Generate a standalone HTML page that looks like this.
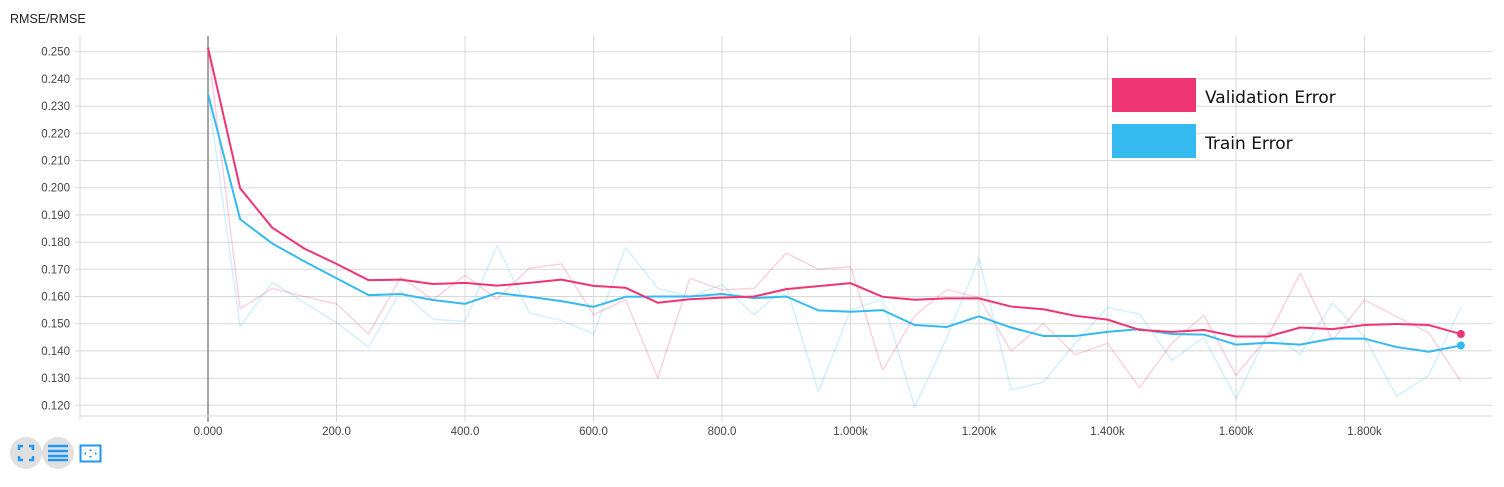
<!DOCTYPE html>
<html><head><meta charset="utf-8"><style>
body{margin:0;background:#fff;width:1504px;height:487px;overflow:hidden;font-family:"Liberation Sans",sans-serif}
svg{position:absolute;left:0;top:0}
.btn{position:absolute;top:437px;width:32px;height:32px;border-radius:16px;background:#e0e0e0}
</style></head><body>
<svg id="chart" width="1504" height="487">
<text x="10" y="23" font-size="12.5" fill="#222">RMSE/RMSE</text>
<g id="grid"></g><g id="axes"></g><g id="series"></g>
<g font-family="DejaVu Sans, sans-serif">
<rect x="1112" y="78" width="84" height="34" fill="#ef3474"/>
<text x="1205" y="103" font-size="17" fill="#111">Validation Error</text>
<rect x="1112" y="124" width="84" height="34" fill="#35baf0"/>
<text x="1205" y="149" font-size="17" fill="#111">Train Error</text>
</g>
</svg>
<div class="btn" style="left:10px">
<svg width="32" height="32" style="position:static"><path d="M9 13V9h4M19 9h4v4M23 19v4h-4M13 23H9v-4" stroke="#2196f3" stroke-width="2.5" fill="none"/></svg></div>
<div class="btn" style="left:42px">
<svg width="32" height="32" style="position:static"><path d="M6 9h20M6 14h20M6 19h20M6 23h20" stroke="#2196f3" stroke-width="2.5"/></svg></div>
<div style="position:absolute;left:79px;top:444px">
<svg width="24" height="20" style="position:static"><rect x="1.5" y="1.5" width="20" height="16" stroke="#2196f3" stroke-width="2" fill="none"/><path d="M11.5 5l-1.5 2h3zM11.5 14l-1.5-2h3zM5 9.5l2-1.5v3zM18 9.5l-2-1.5v3z" fill="#2196f3"/></svg></div>
<script>
const steps=[];for(let i=0;i<40;i++)steps.push(i*50);
const valSmooth=[0.2515,0.1998,0.1853,0.1776,0.172,0.166,0.1662,0.1646,0.165,0.164,0.165,0.1662,0.1639,0.1632,0.1577,0.159,0.1596,0.160,0.1627,0.1638,0.1649,0.1599,0.1588,0.1593,0.1593,0.1563,0.1553,0.1529,0.1515,0.1477,0.147,0.1477,0.1453,0.1453,0.1486,0.148,0.1495,0.1499,0.1495,0.1462];
const trainSmooth=[0.2345,0.1884,0.1795,0.1729,0.1667,0.1605,0.1609,0.1587,0.1573,0.1613,0.1599,0.1583,0.1562,0.1599,0.160,0.160,0.1609,0.1594,0.160,0.1549,0.1544,0.155,0.1495,0.1488,0.1527,0.1486,0.1455,0.1455,0.147,0.148,0.1462,0.146,0.1423,0.143,0.1423,0.1445,0.1445,0.1414,0.1397,0.142];
const valRaw=[0.2515,0.1555,0.163,0.160,0.1573,0.1462,0.1671,0.1588,0.1678,0.159,0.1704,0.172,0.1533,0.1588,0.130,0.1667,0.1625,0.163,0.176,0.170,0.171,0.1329,0.1529,0.1626,0.1596,0.140,0.150,0.1386,0.1428,0.1265,0.1428,0.1531,0.131,0.1453,0.1686,0.1438,0.1588,0.1526,0.1467,0.1288];
const trainRaw=[0.2345,0.149,0.1652,0.1578,0.1504,0.1414,0.162,0.1517,0.1508,0.1788,0.154,0.1512,0.1462,0.178,0.163,0.160,0.1643,0.1533,0.1637,0.125,0.155,0.159,0.1193,0.145,0.174,0.1257,0.1285,0.1429,0.156,0.1535,0.1365,0.145,0.1224,0.1469,0.1388,0.1577,0.1451,0.1233,0.131,0.156];
const yTicks=[0.12,0.13,0.14,0.15,0.16,0.17,0.18,0.19,0.20,0.21,0.22,0.23,0.24,0.25];
const xTicks=[0,200,400,600,800,1000,1200,1400,1600,1800];
const xTickLabels=["0.000","200.0","400.0","600.0","800.0","1.000k","1.200k","1.400k","1.600k","1.800k"];
const X=s=>208+s*0.6425, Y=v=>405.3-(v-0.12)*2720;
const NS="http://www.w3.org/2000/svg";
function mk(tag,attrs,parent){const e=document.createElementNS(NS,tag);for(const k in attrs)e.setAttribute(k,attrs[k]);parent.appendChild(e);return e;}
const grid=document.getElementById('grid'),axes=document.getElementById('axes'),ser=document.getElementById('series');
yTicks.forEach(t=>{const y=Y(t);
const l=mk('line',{x1:75,x2:1492,y1:y,y2:y,stroke:'#d8d8d8','stroke-width':1},grid);


const tx=mk('text',{x:70,y:y+4,'font-size':11.5,fill:'#444','text-anchor':'end'},axes);tx.textContent=t.toFixed(3);

});
xTicks.forEach((t,i)=>{const x=X(t);
const l=mk('line',{x1:x,x2:x,y1:36,y2:422,stroke:t===0?'#888':'#d8d8d8','stroke-width':t===0?1.5:1},grid);


const tx=mk('text',{x:x,y:435,'font-size':11.5,fill:'#444','text-anchor':'middle'},axes);tx.textContent=xTickLabels[i];

});
const ax=mk('line',{x1:80,x2:1492,y1:416,y2:416,stroke:'#d8d8d8'},axes);


const ay=mk('line',{x1:80,x2:80,y1:36,y2:420,stroke:'#d8d8d8'},axes);


function line(vals,color,op,w,name){const p=mk('polyline',{points:vals.map((v,i)=>X(steps[i])+','+Y(v)).join(' '),fill:'none',stroke:color,'stroke-opacity':op,'stroke-width':w,'stroke-linejoin':'round'},ser);

}
line(valRaw,'#ef3474',0.22,1.5,'validation-raw-line');
line(trainRaw,'#35baf0',0.22,1.5,'train-raw-line');
line(trainSmooth,'#35baf0',1,2,'train-smoothed-line');
line(valSmooth,'#ef3474',1,2,'validation-smoothed-line');
const n=steps.length-1;
const d1=mk('circle',{cx:X(steps[n]),cy:Y(valSmooth[n]),r:4,fill:'#ef3474'},ser);


const d2=mk('circle',{cx:X(steps[n]),cy:Y(trainSmooth[n]),r:4,fill:'#35baf0'},ser);


</script>
</body></html>
